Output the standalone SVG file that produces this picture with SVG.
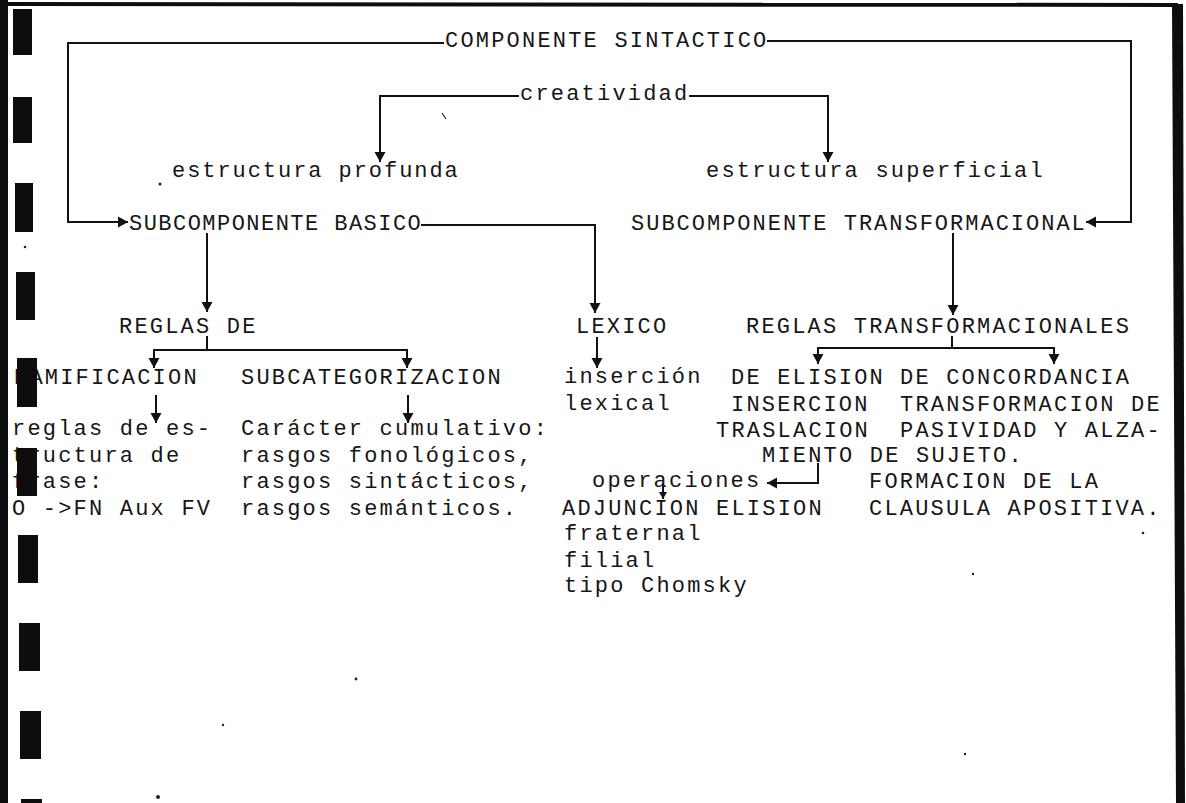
<svg xmlns="http://www.w3.org/2000/svg" width="1186" height="803" viewBox="0 0 1186 803">
  <style>
    text { font-family: "Liberation Mono", "DejaVu Sans Mono", monospace; font-size: 22px; letter-spacing: 2.2px; fill: #161616; }
    .wire { fill: none; stroke: #111; stroke-width: 2; }
    .arrow { marker-end: url(#head); }
    .arrow-s { marker-end: url(#head-small); }
    .hole { fill: #0d0d0d; }
    .speck { fill: #222; }
  </style>
  <defs>
    <marker id="head" markerUnits="userSpaceOnUse" markerWidth="11" markerHeight="12" refX="10" refY="6" orient="auto">
      <path d="M0,0.5 L10,6 L0,11.5 Z" fill="#111"/>
    </marker>
    <marker id="head-small" markerUnits="userSpaceOnUse" markerWidth="8" markerHeight="9" refX="7" refY="4.5" orient="auto">
      <path d="M0,0.5 L7,4.5 L0,8.5 Z" fill="#111"/>
    </marker>
  </defs>

  <rect width="1186" height="803" fill="#ffffff"/>

  <!-- page frame and punched margin -->
  <g id="frame">
    <rect x="0" y="0" width="8" height="803" fill="#0d0d0d"/>
    <polygon points="0,2 1178,3 1178,7 0,6" fill="#0d0d0d"/>
    <polygon points="1172,4 1183,4 1185,803 1176,803" fill="#0d0d0d"/>
    <rect class="hole" x="13" y="9" width="19" height="46"/>
    <rect class="hole" x="13" y="97" width="19" height="46"/>
    <rect class="hole" x="15" y="183" width="18" height="49"/>
    <rect class="hole" x="16" y="272" width="19" height="48"/>
    <rect class="hole" x="17" y="358" width="20" height="49"/>
    <rect class="hole" x="17" y="448" width="20" height="48"/>
    <rect class="hole" x="18" y="535" width="20" height="48"/>
    <rect class="hole" x="19" y="623" width="21" height="48"/>
    <rect class="hole" x="20" y="711" width="21" height="48"/>
    <rect class="hole" x="21" y="799" width="21" height="4"/>
  </g>

  <!-- connectors -->
  <g id="connectors">
    <path class="wire" d="M444,43 H68 V222 H118"/>
    <path class="wire" d="M68,222 H128" marker-end="url(#head)"/>
    <path class="wire" d="M767,41 H1131 V222 H1086" marker-end="url(#head)"/>
    <path class="wire arrow" d="M519,96 H380 V162"/>
    <path class="wire arrow" d="M689,96 H828 V162"/>
    <path class="wire arrow" d="M207,233 V312"/>
    <path class="wire arrow" d="M421,225 H595 V313"/>
    <path class="wire arrow" d="M953,233 V315"/>
    <path class="wire" d="M207,336 V350"/>
    <path class="wire arrow" d="M207,350 H154 V368"/>
    <path class="wire arrow" d="M207,350 H407 V368"/>
    <path class="wire arrow" d="M597,337 V368"/>
    <path class="wire" d="M952,336 V348"/>
    <path class="wire arrow" d="M952,348 H818 V364"/>
    <path class="wire arrow" d="M952,348 H1054 V364"/>
    <path class="wire arrow" d="M156,395 V423"/>
    <path class="wire arrow" d="M408,395 V423"/>
    <path class="wire arrow" d="M818,463 V483 H767"/>
    <path class="wire arrow-s" d="M663,484 V499"/>
  </g>

  <!-- top level -->
  <g id="componente-sintactico"><text x="445" y="47">COMPONENTE SINTACTICO</text></g>
  <g id="creatividad"><text x="520" y="100">creatividad</text></g>
  <g id="estructura-profunda"><text x="172" y="177" textLength="288" lengthAdjust="spacing">estructura profunda</text></g>
  <g id="estructura-superficial"><text x="706" y="177">estructura superficial</text></g>

  <!-- subcomponents -->
  <g id="subcomponente-basico"><text x="129" y="230" textLength="294" lengthAdjust="spacing">SUBCOMPONENTE BASICO</text></g>
  <g id="subcomponente-transformacional"><text x="631" y="230" textLength="456" lengthAdjust="spacing">SUBCOMPONENTE TRANSFORMACIONAL</text></g>

  <!-- basic subcomponent -->
  <g id="reglas-de"><text x="119" y="333">REGLAS DE</text></g>
  <g id="ramificacion">
    <text x="14" y="384">RAMIFICACION</text>
    <text x="12" y="435">reglas de es-</text>
    <text x="12" y="462">tructura de</text>
    <text x="12" y="488">frase:</text>
    <text x="12" y="515">O -&gt;FN Aux FV</text>
  </g>
  <g id="subcategorizacion">
    <text x="241" y="384">SUBCATEGORIZACION</text>
    <text x="241" y="435">Carácter cumulativo:</text>
    <text x="241" y="462">rasgos fonológicos,</text>
    <text x="241" y="488">rasgos sintácticos,</text>
    <text x="241" y="515">rasgos semánticos.</text>
  </g>
  <g id="lexico">
    <text x="576" y="333">LEXICO</text>
    <text x="564" y="383">inserción</text>
    <text x="564" y="410">lexical</text>
  </g>

  <!-- transformational subcomponent -->
  <g id="reglas-transformacionales"><text x="746" y="333">REGLAS TRANSFORMACIONALES</text></g>
  <g id="reglas-de-elision">
    <text x="731" y="384">DE ELISION</text>
    <text x="731" y="411">INSERCION</text>
    <text x="716" y="437">TRASLACION</text>
    <text x="762" y="462">MIENTO DE SUJETO.</text>
  </g>
  <g id="reglas-de-concordancia">
    <text x="900" y="384">DE CONCORDANCIA</text>
    <text x="900" y="411">TRANSFORMACION DE</text>
    <text x="900" y="437">PASIVIDAD Y ALZA-</text>
    <text x="869" y="488">FORMACION DE LA</text>
    <text x="869" y="515">CLAUSULA APOSITIVA.</text>
  </g>
  <g id="operaciones">
    <text x="592" y="487">operaciones</text>
    <text x="562" y="515">ADJUNCION ELISION</text>
    <text x="564" y="540">fraternal</text>
    <text x="564" y="567">filial</text>
    <text x="564" y="592">tipo Chomsky</text>
  </g>

  <!-- punched holes sit over the margin text -->
  <g id="margin-holes">
    <rect class="hole" x="17" y="358" width="20" height="49"/>
    <rect class="hole" x="17" y="448" width="20" height="48"/>
  </g>

  <!-- paper specks -->
  <g id="specks">
    <circle class="speck" cx="160" cy="184" r="1.5"/>
    <circle class="speck" cx="25" cy="247" r="1.3"/>
    <path d="M442,113 L446,119" stroke="#222" stroke-width="1.2"/>
    <circle class="speck" cx="1143" cy="533" r="1.3"/>
    <circle class="speck" cx="158" cy="797" r="2"/>
    <circle class="speck" cx="356" cy="679" r="1.4"/>
    <circle class="speck" cx="223" cy="725" r="1.2"/>
    <circle class="speck" cx="973" cy="574" r="1.2"/>
    <circle class="speck" cx="965" cy="754" r="1.2"/>
  </g>
</svg>
